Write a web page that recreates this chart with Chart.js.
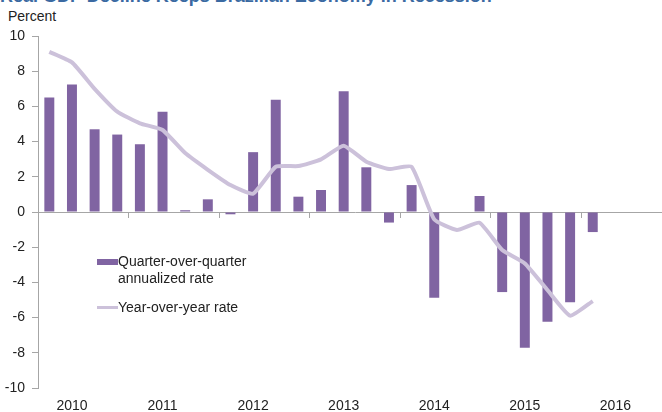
<!DOCTYPE html>
<html>
<head>
<meta charset="utf-8">
<script src="https://cdn.jsdelivr.net/npm/chart.js@4/dist/chart.umd.min.js"></script>
<style>
  html, body { margin: 0; padding: 0; background: #fff; overflow: hidden; width: 662px; height: 412px; }
  body { position: relative; font-family: "Liberation Sans", Arial, sans-serif; }
  #titulo { position: absolute; left: 0; top: -14px; font-size: 18px; font-weight: bold; color: #3b6aa2; white-space: nowrap; }
  #unidade { position: absolute; left: 8px; top: 8px; font-size: 14px; color: #222; }
  #wrap { position: absolute; left: 0; top: 0; width: 676px; height: 412px; }
  .leg { position: absolute; font-size: 14px; color: #222; line-height: 17px; }
  .sw { position: absolute; }
</style>
</head>
<body>
<div id="titulo">Real GDP Decline Keeps Brazilian Economy in Recession</div>
<div id="unidade">Percent</div>
<div id="wrap"><canvas id="grafico"></canvas></div>

<div class="sw" style="left:97px;top:259px;width:21px;height:6px;background:#8064a2"></div>
<div class="leg" style="left:118px;top:253px">Quarter-over-quarter<br>annualized rate</div>
<div class="sw" style="left:97px;top:306px;width:21px;height:3px;background:#ccc1da"></div>
<div class="leg" style="left:118px;top:299px">Year-over-year rate</div>

<script>
// trimestres 2010 Q1 .. 2016 Q4 (eixo vai ate o fim de 2016)
const anos = ['2010', '2011', '2012', '2013', '2014', '2015', '2016']
const trimestres = []
for (let a = 0; a < anos.length; a++) {
    for (let q = 1; q <= 4; q++) {
        trimestres.push(anos[a] + ' Q' + q)
    }
}

// variacao trimestral anualizada (%)
const taxaTrimestral = [
    6.5, 7.25, 4.7, 4.4,
    3.85, 5.7, 0.1, 0.72,
    -0.13, 3.4, 6.38, 0.87,
    1.25, 6.86, 2.54, -0.6,
    1.53, -4.87, 0, 0.91,
    -4.55, -7.71, -6.23, -5.13,
    -1.14
]

// variacao anual (%)
const taxaAnual = [
    9.1, 8.5, 7.0, 5.7,
    5.04, 4.66, 3.35, 2.4,
    1.53, 1.04, 2.57, 2.61,
    2.99, 3.77, 2.86, 2.44,
    2.57, -0.42, -1.02, -0.61,
    -2.16, -2.92, -4.43, -5.89,
    -5.06
]

const yTicks = [-10, -8, -6, -4, -2, 0, 2, 4, 6, 8, 10]

const corTexto = '#222'
const corEixo = '#a6a6a6'

var ctx = document.getElementById('grafico')

var chartGraph = new Chart(ctx, {
    data: {
        labels: trimestres,
        datasets: [{
            type: 'line',
            label: 'Year-over-year rate',
            data: taxaAnual,
            borderColor: '#ccc1da',
            borderWidth: 4,
            pointRadius: 0,
            tension: 0.15,
            order: 1
        }, {
            type: 'bar',
            label: 'Quarter-over-quarter annualized rate',
            data: taxaTrimestral,
            backgroundColor: '#8064a2',
            barPercentage: 0.88,
            categoryPercentage: 0.5,
            order: 2
        }]
    },
    options: {
        responsive: true,
        maintainAspectRatio: false,
        animation: false,
        layout: { padding: { top: 36, right: 4, left: 0, bottom: 0 } },
        plugins: {
            legend: { display: false },
            tooltip: { enabled: false }
        },
        scales: {
            x: {
                type: 'category',
                position: 'bottom',
                grid: { display: false },
                border: { display: false },
                ticks: {
                    autoSkip: false,
                    maxRotation: 0,
                    padding: 2,
                    color: corTexto,
                    font: { family: 'Liberation Sans', size: 14 },
                    callback: function(v, i) {
                        return i % 4 === 1 ? anos[Math.floor(i / 4)] : ''
                    }
                },
                afterFit: function(s) { s.height = 24 }
            },
            x2: {
                type: 'category',
                labels: trimestres,
                position: { y: 0 },
                offset: true,
                grid: {
                    drawOnChartArea: false,
                    drawTicks: true,
                    tickLength: 5,
                    offset: true,
                    color: function(c) { return (c.index % 4 === 0 && c.index > 0) ? corEixo : 'rgba(0,0,0,0)' }
                },
                border: { display: true, color: corEixo, width: 1 },
                ticks: { display: false, autoSkip: false },
                afterFit: function(s) { s.height = 0 }
            },
            y: {
                min: -10,
                max: 10,
                afterBuildTicks: function(s) { s.ticks = yTicks.map(v => ({ value: v })) },
                grid: {
                    drawOnChartArea: false,
                    drawTicks: true,
                    tickLength: 6,
                    color: corEixo
                },
                border: { display: true, color: corEixo, width: 1 },
                ticks: {
                    padding: 7,
                    color: corTexto,
                    font: { family: 'Liberation Sans', size: 14 }
                },
                afterFit: function(s) { s.width = 38 }
            }
        }
    }
})
</script>
</body>
</html>
